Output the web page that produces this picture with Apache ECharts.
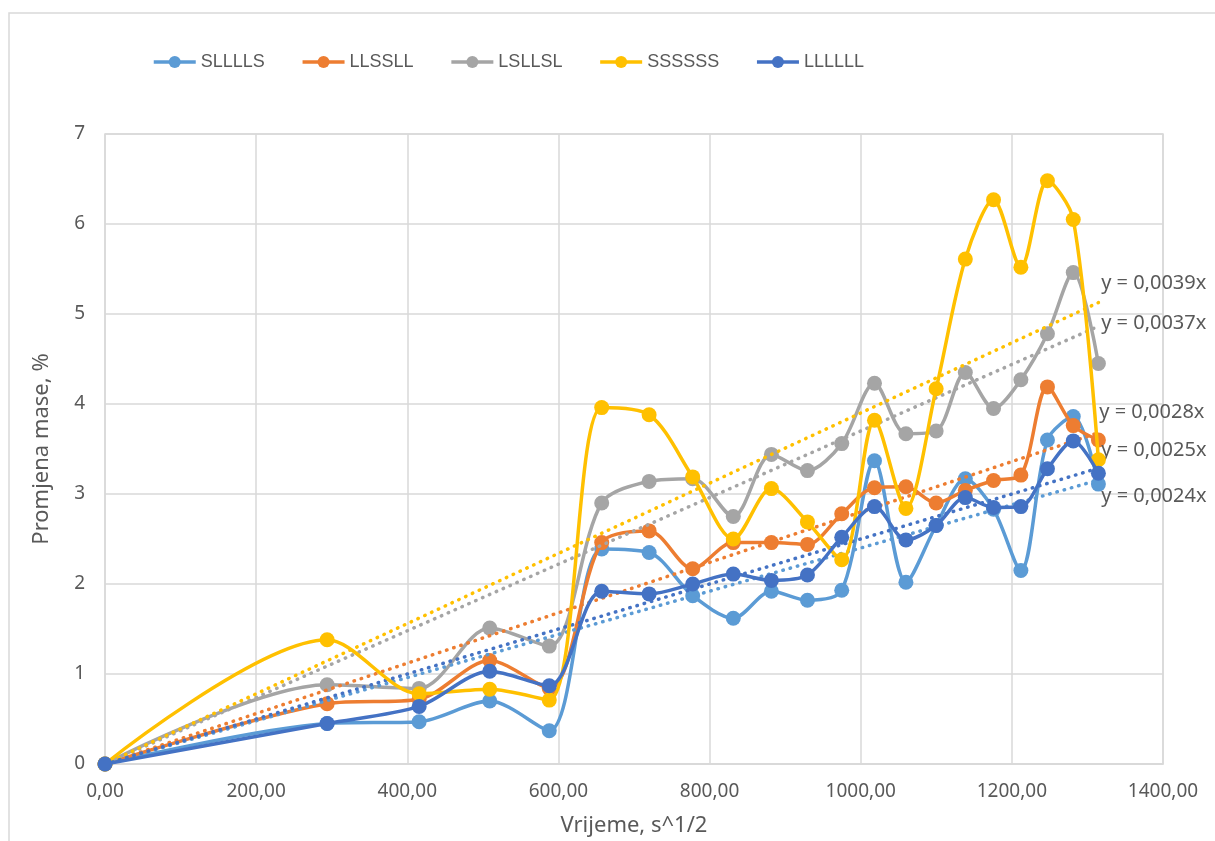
<!DOCTYPE html>
<html>
<head>
<meta charset="utf-8">
<script src="https://cdn.jsdelivr.net/npm/echarts@6/dist/echarts.min.js"></script>
<style>
  html, body { margin: 0; padding: 0; background: #fff; }
  #charts { width: 1215px; height: 841px; }
</style>
</head>
<body>
<div id="charts"></div>
<script>
var myChart = echarts.init(document.getElementById('charts'));

// vrijeme, s^1/2
var xVals = [0, 293.94, 415.69, 509.12, 587.88, 657.27, 720.00, 777.69, 831.38, 881.82, 929.52,
             974.88, 1018.23, 1059.81, 1099.82, 1138.42, 1175.76, 1211.94, 1247.08, 1281.25, 1314.53];

var names = ['SLLLLS', 'LLSSLL', 'LSLLSL', 'SSSSSS', 'LLLLLL'];
var colors = ['#5B9BD5', '#ED7D31', '#A5A5A5', '#FFC000', '#4472C4'];

var sLLLLS = [0, 0.45, 0.47, 0.70, 0.37, 2.39, 2.35, 1.87, 1.62, 1.92, 1.82, 1.93, 3.37, 2.02, 2.65, 3.17, 2.83, 2.15, 3.60, 3.86, 3.11];
var lLSSLL = [0, 0.67, 0.72, 1.15, 0.84, 2.46, 2.59, 2.17, 2.46, 2.46, 2.44, 2.78, 3.07, 3.08, 2.90, 3.04, 3.15, 3.21, 4.19, 3.76, 3.60];
var lSLLSL = [0, 0.88, 0.84, 1.51, 1.31, 2.90, 3.14, 3.17, 2.75, 3.44, 3.26, 3.56, 4.23, 3.67, 3.70, 4.35, 3.95, 4.27, 4.78, 5.46, 4.45];
var sSSSSS = [0, 1.38, 0.78, 0.83, 0.71, 3.96, 3.88, 3.19, 2.50, 3.06, 2.69, 2.27, 3.82, 2.84, 4.17, 5.61, 6.27, 5.52, 6.48, 6.05, 3.38];
var lLLLLL = [0, 0.45, 0.64, 1.03, 0.87, 1.92, 1.89, 2.00, 2.11, 2.04, 2.10, 2.52, 2.86, 2.49, 2.65, 2.96, 2.85, 2.86, 3.28, 3.59, 3.23];
var values = [sLLLLS, lLSSLL, lSLLSL, sSSSSS, lLLLLL];

// linearni trend kroz ishodiste
var slopes = [0.0024, 0.0028, 0.0037, 0.0039, 0.0025];
var slopeLabels = ['y = 0,0024x', 'y = 0,0028x', 'y = 0,0037x', 'y = 0,0039x', 'y = 0,0025x'];
var labelOffsets = [[0, 17], [-2, -19], [0, -2], [0, -18], [0, -17]];

var textColor = '#595959';
var font = 'Noto Sans';

var series = names.map(function (n, i) {
    var xEnd = xVals[xVals.length - 1];
    return {
        name: n,
        type: 'line',
        smooth: 0.3,
        data: xVals.map(function (x, k) { return [x, values[i][k]]; }),
        symbol: 'circle',
        symbolSize: 15,
        itemStyle: { color: colors[i] },
        lineStyle: { width: 3.5, color: colors[i] },
        z: 2 + i,
        markLine: {
            silent: true,
            symbol: ['none', 'none'],
            lineStyle: { type: [0.5, 7], width: 3.5, color: colors[i], cap: 'round' },
            label: {
                show: true,
                position: 'end',
                distance: 3,
                offset: labelOffsets[i],
                formatter: slopeLabels[i],
                color: textColor,
                fontSize: 20,
                fontFamily: font
            },
            data: [[{ coord: [0, 0] }, { coord: [xEnd, slopes[i] * xEnd] }]]
        }
    };
});

var option = {
    animation: false,
    backgroundColor: '#fff',
    graphic: [{
        type: 'rect',
        shape: { x: 9, y: 13, width: 1240, height: 860 },
        style: { fill: 'none', stroke: '#d9d9d9', lineWidth: 1.5 },
        silent: true
    }],
    legend: {
        left: 147,
        top: 48,
        itemWidth: 42,
        itemHeight: 15,
        itemGap: 36,
        lineStyle: { width: 3.5 },
        textStyle: { color: textColor, fontSize: 18, fontFamily: 'Liberation Sans' },
        data: names
    },
    grid: {
        left: 105, right: 52, top: 134, bottom: 77,
        outerBoundsMode: 'none',
        containLabel: false,
        show: true, borderColor: '#d9d9d9', borderWidth: 1.5
    },
    xAxis: {
        type: 'value',
        min: 0, max: 1400, interval: 200,
        name: 'Vrijeme, s^1/2',
        nameLocation: 'middle',
        nameGap: 51,
        nameTextStyle: { color: textColor, fontSize: 22, fontFamily: font },
        axisLine: { show: true, lineStyle: { color: '#d9d9d9', width: 1.5 } },
        axisTick: { show: false },
        axisLabel: {
            color: textColor, fontSize: 19, fontFamily: font, margin: 18,
            formatter: function (v) { return v.toFixed(2).replace('.', ','); }
        },
        splitLine: { lineStyle: { color: '#d9d9d9', width: 1.5 } }
    },
    yAxis: {
        type: 'value',
        min: 0, max: 7, interval: 1,
        name: 'Promjena mase, %',
        nameLocation: 'middle',
        nameGap: 52,
        nameTextStyle: { color: textColor, fontSize: 22, fontFamily: font },
        axisLine: { show: false },
        axisTick: { show: false },
        axisLabel: { color: textColor, fontSize: 19, fontFamily: font, margin: 20 },
        splitLine: { lineStyle: { color: '#d9d9d9', width: 1.5 } }
    },
    series: series
};
myChart.setOption(option);
</script>
</body>
</html>
